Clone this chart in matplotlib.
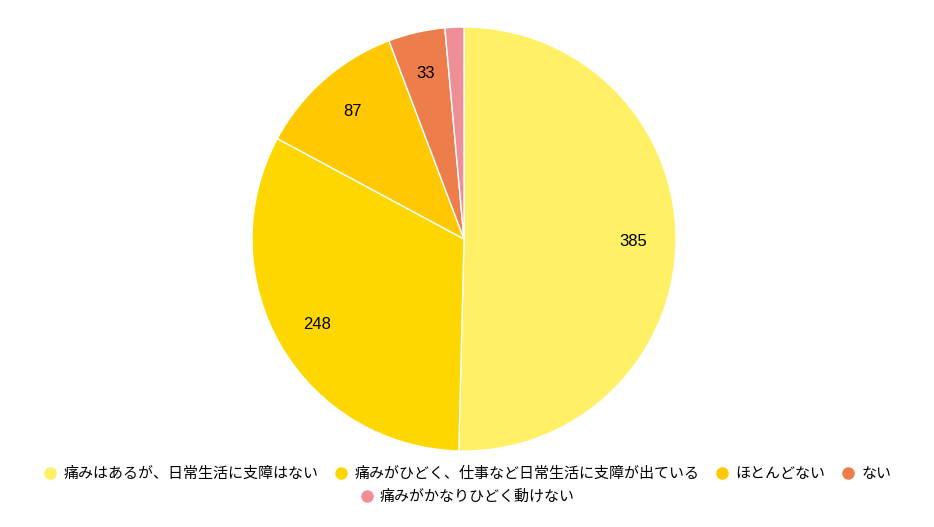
import matplotlib.pyplot as plt
from matplotlib.lines import Line2D

plt.rcParams['font.family'] = ['Noto Sans CJK JP', 'DejaVu Sans']

# answer categories and counts
categories = [
    '痛みはあるが、日常生活に支障はない',
    '痛みがひどく、仕事など日常生活に支障が出ている',
    'ほとんどない',
    'ない',
    '痛みがかなりひどく動けない',
]
counts = [385, 248, 87, 33, 11]
shown_labels = ['385', '248', '87', '33', '']
colors = ['#FFF066', '#FFD700', '#FFC800', '#ED7D4A', '#EE8F98']

W, H = 934, 527
fig = plt.figure(figsize=(W / 100, H / 100), dpi=100)

cx, cy, r = 464, 527 - 239, 212
ax = fig.add_axes([(cx - r) / W, (cy - r) / H, 2 * r / W, 2 * r / H])
wedges, texts = ax.pie(
    counts, colors=colors, startangle=90, counterclock=False,
    labels=shown_labels, labeldistance=0.8,
    wedgeprops=dict(edgecolor='white', linewidth=1),
    textprops=dict(fontsize=12, family=['Liberation Sans', 'DejaVu Sans'], color='black'),
)
for t in texts:
    t.set_horizontalalignment('center')
    t.set_verticalalignment('center')
ax.set_xlim(-1, 1)
ax.set_ylim(-1, 1)
ax.set_aspect('equal')

def handle(c):
    return Line2D([], [], marker='o', linestyle='none', markersize=8,
                  markerfacecolor=c, markeredgecolor=c)

common = dict(frameon=False, fontsize=10.8, handletextpad=0.4,
              columnspacing=1.0, handlelength=1.0, borderaxespad=0)
fig.legend([handle(c) for c in colors[:4]], categories[:4], ncol=4,
           loc='center', bbox_to_anchor=(0.5, 1 - 474 / H), **common)
fig.legend([handle(colors[4])], categories[4:], ncol=1,
           loc='center', bbox_to_anchor=(0.5, 1 - 497 / H), **common)

fig.savefig('out.png', dpi=100)
